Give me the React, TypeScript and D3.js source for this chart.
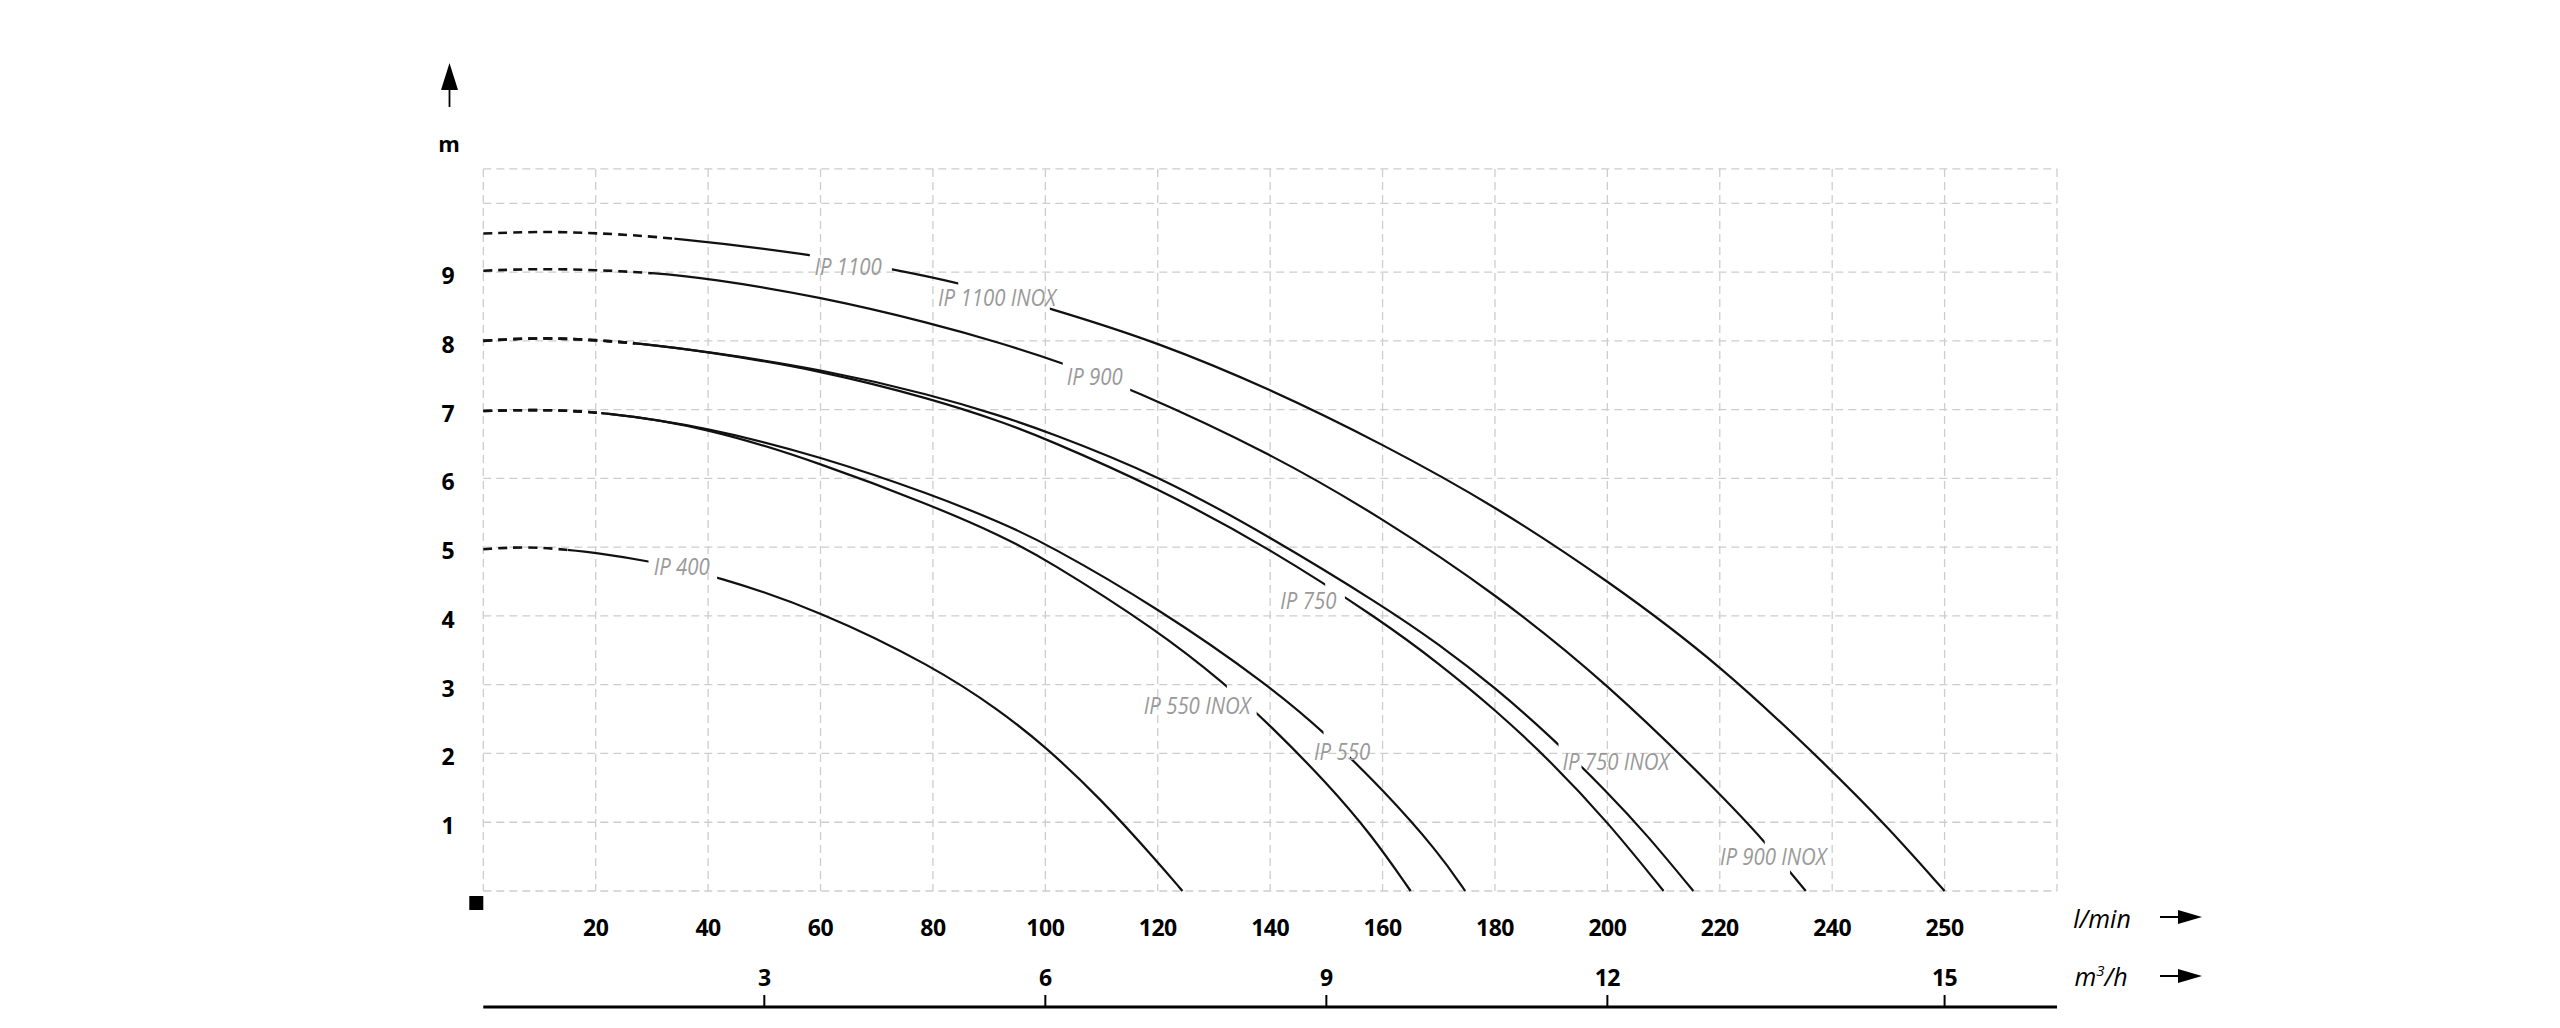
import * as d3 from 'd3';

// flow axis (l/min) - last tick sits one step after 240 but is printed "250"
const FLOW_TICKS = [20, 40, 60, 80, 100, 120, 140, 160, 180, 200, 220, 240, 260];
const FLOW_TICK_LABELS = ['20', '40', '60', '80', '100', '120', '140', '160', '180', '200', '220', '240', '250'];
const HEAD_TICKS = [1, 2, 3, 4, 5, 6, 7, 8, 9];
const M3H_TICKS = [50, 100, 150, 200, 260];
const M3H_TICK_LABELS = ['3', '6', '9', '12', '15'];
const GRID_FLOW = [0, 20, 40, 60, 80, 100, 120, 140, 160, 180, 200, 220, 240, 260, 280];
const GRID_HEAD = [0, 1, 2, 3, 4, 5, 6, 7, 8, 9, 10, 10.5];

// [flow l/min, head m]
const IP1100 = [[0, 9.56], [10, 9.59], [20, 9.57], [34, 9.5], [58, 9.26], [73, 9.04], [85, 8.84], [101, 8.47], [120, 7.98], [140, 7.3], [160, 6.5], [180, 5.6], [200, 4.52], [220, 3.3], [240, 1.75], [250, 0.92], [260, 0]];
const IP900 = [[0, 9.02], [10, 9.05], [20, 9.03], [30, 8.99], [40, 8.91], [60, 8.64], [80, 8.25], [92, 7.97], [103, 7.68], [115, 7.31], [140, 6.37], [160, 5.42], [180, 4.33], [200, 3.02], [220, 1.42], [228, 0.72], [235.3, 0]];
const IP750 = [[0, 8.0], [10, 8.05], [20, 8.01], [27, 7.97], [40, 7.84], [60, 7.57], [80, 7.15], [92, 6.83], [100, 6.58], [120, 5.86], [140, 4.98], [160, 3.92], [170, 3.31], [180, 2.64], [190, 1.88], [200, 1.01], [210, 0]];
const IP750_INOX = [[0, 8.0], [10, 8.05], [20, 8.01], [27, 7.97], [40, 7.84], [60, 7.59], [80, 7.21], [92, 6.91], [100, 6.69], [120, 6.05], [140, 5.15], [160, 4.15], [170, 3.59], [180, 2.96], [190, 2.24], [200, 1.44], [207, 0.82], [215.3, 0]];
const IP550 = [[0, 6.98], [10, 7.0], [21, 6.97], [40, 6.74], [60, 6.32], [80, 5.76], [92, 5.36], [100, 5.06], [120, 4.12], [140, 2.98], [150, 2.28], [160, 1.48], [170, 0.56], [174.7, 0]];
const IP550_INOX = [[0, 6.98], [10, 7.0], [21, 6.97], [40, 6.74], [60, 6.22], [80, 5.6], [92, 5.17], [100, 4.83], [120, 3.79], [132, 3.01], [140, 2.41], [150, 1.58], [158, 0.82], [165, 0]];
const IP400 = [[0, 4.97], [8, 5.01], [15, 4.96], [20, 4.92], [29.4, 4.8], [41.6, 4.58], [60, 4.07], [80, 3.27], [92, 2.62], [100, 2.1], [110, 1.33], [120, 0.42], [124.4, 0]];

const CURVES = [
  { id: 'ip1100', points: IP1100, dashEnd: 34 },
  { id: 'ip900', points: IP900, dashEnd: 30 },
  { id: 'ip750', points: IP750, dashEnd: 27 },
  { id: 'ip750inox', points: IP750_INOX, dashEnd: 27 },
  { id: 'ip550', points: IP550, dashEnd: 21 },
  { id: 'ip550inox', points: IP550_INOX, dashEnd: 21 },
  { id: 'ip400', points: IP400, dashEnd: 15 },
];

// label anchor (flow, head) and the break it leaves in its curve
const LABELS = [
  { text: 'IP 1100', curve: 'ip1100', q: 64.9, h: 9.09, gap: [58.1, 72.7] },
  { text: 'IP 1100 INOX', curve: 'ip1100', q: 91.4, h: 8.64, gap: [84.5, 100.8] },
  { text: 'IP 900', curve: 'ip900', q: 108.8, h: 7.49, gap: [103.1, 115.1] },
  { text: 'IP 900 INOX', curve: 'ip900', q: 229.5, h: 0.51, gap: [228, 232.5] },
  { text: 'IP 750', curve: 'ip750', q: 146.8, h: 4.23, gap: [149.8, 153.3] },
  { text: 'IP 750 INOX', curve: 'ip750inox', q: 201.5, h: 1.89, gap: [191.3, 195.4] },
  { text: 'IP 550', curve: 'ip550', q: 152.8, h: 2.04, gap: [149.5, 154.2] },
  { text: 'IP 550 INOX', curve: 'ip550inox', q: 127, h: 2.7, gap: [132.3, 137.6] },
  { text: 'IP 400', curve: 'ip400', q: 35.3, h: 4.73, gap: [29.4, 41.6] },
];

const FONT = '"Open Sans", "DejaVu Sans", sans-serif';

export default function App() {
  const width = 2560;
  const height = 1028;

  const x = d3.scaleLinear().domain([0, 280]).range([483.3, 2057]);
  const y = d3.scaleLinear().domain([0, 10.5]).range([891, 168.9]);

  // b-spline smooths out small reading errors in the points
  const line = d3
    .line<number[]>()
    .x((d) => x(d[0]))
    .y((d) => y(d[1]))
    .curve(d3.curveBasis);

  const curves = CURVES.map((c) => {
    const end = c.points[c.points.length - 1][0];
    const gaps = LABELS.filter((l) => l.curve === c.id)
      .map((l) => l.gap)
      .sort((a, b) => a[0] - b[0]);
    const solids: number[][] = [];
    let start = c.dashEnd;
    gaps.forEach((g) => {
      solids.push([start, g[0]]);
      start = g[1];
    });
    solids.push([start, end + 5]);
    return { id: c.id, d: line(c.points)!, dashEnd: c.dashEnd, solids };
  });

  const gridColor = '#cdcdcd';

  return (
    <svg
      width={width}
      height={height}
      style={{ position: 'absolute', left: 0, top: 0, background: '#fff' }}
    >
      <defs>
        {curves.map((c) => (
          <g key={c.id}>
            <clipPath id={`dash-${c.id}`}>
              <rect x={0} y={0} width={x(c.dashEnd)} height={height} />
            </clipPath>
            <clipPath id={`solid-${c.id}`}>
              {c.solids.map((s, i) => (
                <rect key={i} x={x(s[0])} y={0} width={x(s[1]) - x(s[0])} height={height} />
              ))}
            </clipPath>
          </g>
        ))}
      </defs>

      {/* grid */}
      <g stroke={gridColor} strokeWidth={1.3} strokeDasharray="8 5" fill="none">
        {GRID_HEAD.map((h) => (
          <line key={'h' + h} x1={x(0)} x2={x(280)} y1={y(h)} y2={y(h)} />
        ))}
        {GRID_FLOW.map((q) => (
          <line key={'v' + q} x1={x(q)} x2={x(q)} y1={y(10.5)} y2={y(0)} />
        ))}
      </g>

      {/* origin marker */}
      <rect x={x(0) - 14} y={y(0) + 5} width={14} height={14} fill="#000" />

      {/* curves */}
      <g fill="none" stroke="#111" strokeLinecap="butt">
        {curves.map((c) => (
          <g key={c.id}>
            <path d={c.d} strokeWidth={2.6} strokeDasharray="9 6" clipPath={`url(#dash-${c.id})`} />
            <path d={c.d} strokeWidth={2.2} clipPath={`url(#solid-${c.id})`} />
          </g>
        ))}
      </g>

      {/* curve labels */}
      <g fill="#999" fontFamily={FONT} fontStyle="italic" fontSize={24}>
        {LABELS.map((l) => (
          <text
            key={l.text}
            transform={`translate(${x(l.q)},${y(l.h)}) scale(0.85,1)`}
            textAnchor="middle"
            dominantBaseline="central"
          >
            {l.text}
          </text>
        ))}
      </g>

      {/* y axis */}
      <g fontFamily={FONT} fontWeight="bold" fontSize={23} fill="#000">
        {HEAD_TICKS.map((h) => (
          <text key={h} x={448} y={y(h) + 3} textAnchor="middle" dominantBaseline="central">
            {h}
          </text>
        ))}
        <text x={449} y={143} textAnchor="middle" dominantBaseline="central" fontSize={22}>
          m
        </text>
      </g>
      <line x1={449.5} x2={449.5} y1={107} y2={88} stroke="#000" strokeWidth={1.8} />
      <path d="M449.5,63 L458,90 L441,90 Z" fill="#000" />

      {/* flow axis l/min */}
      <g fontFamily={FONT} fontWeight="bold" fontSize={23} fill="#000" letterSpacing={-0.5}>
        {FLOW_TICKS.map((q, i) => (
          <text key={q} x={x(q)} y={927} textAnchor="middle" dominantBaseline="central">
            {FLOW_TICK_LABELS[i]}
          </text>
        ))}
        {M3H_TICKS.map((q, i) => (
          <text key={q} x={x(q)} y={977} textAnchor="middle" dominantBaseline="central">
            {M3H_TICK_LABELS[i]}
          </text>
        ))}
      </g>

      {/* m3/h axis line */}
      <line x1={x(0)} x2={x(280)} y1={1007} y2={1007} stroke="#000" strokeWidth={3} />
      {M3H_TICKS.map((q) => (
        <line key={q} x1={x(q)} x2={x(q)} y1={995} y2={1007} stroke="#000" strokeWidth={2} />
      ))}

      {/* unit labels and arrows */}
      <g fontFamily={FONT} fontStyle="italic" fontSize={25} fill="#000">
        <text x={2102} y={928} textAnchor="middle">
          l/min
        </text>
        <text x={2101} y={986} textAnchor="middle">
          m<tspan fontSize={15} dy={-10}>3</tspan>
          <tspan dy={10}>/h</tspan>
        </text>
      </g>
      {[917, 976].map((yy) => (
        <g key={yy}>
          <line x1={2160} x2={2180} y1={yy} y2={yy} stroke="#000" strokeWidth={2} />
          <path d={`M2178,${yy - 7} L2202,${yy} L2178,${yy + 7} Z`} fill="#000" />
        </g>
      ))}
    </svg>
  );
}
